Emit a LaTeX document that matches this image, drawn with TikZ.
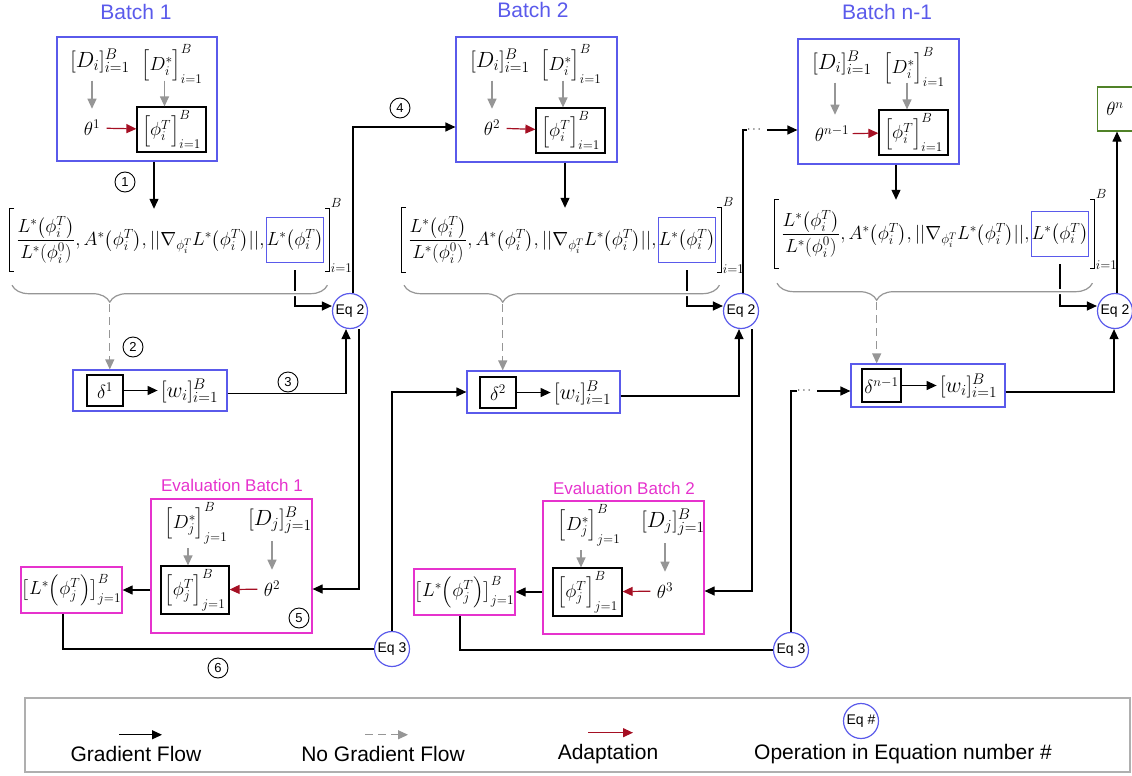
\RequirePackage{fix-cm}
\documentclass[tikz,border=0pt]{standalone}
\usepackage{amsmath}
\usepackage[no-math]{fontspec}
\setmainfont{Liberation Sans}
\usepackage{tikz}
\usetikzlibrary{arrows.meta,positioning,calc,decorations.pathreplacing}
\definecolor{bblue}{RGB}{90,90,235}
\definecolor{emag}{RGB}{230,50,205}
\definecolor{ggray}{RGB}{150,150,150}
\definecolor{rred}{RGB}{165,15,35}
\definecolor{tgreen}{RGB}{80,130,40}
\definecolor{lgray}{RGB}{175,175,175}
\newcommand{\Lpar}[1]{{\left(#1\right)}}
\newcommand{\featrow}{$\dfrac{L^*\Lpar{\phi_i^T}}{L^*\Lpar{\phi_i^0}}, A^*\Lpar{\phi_i^T}, ||\nabla_{\phi_i^T}L^*\Lpar{\phi_i^T}||,$}

\begin{document}
\begin{tikzpicture}[
  x=1pt, y=-1pt,
  font=\fontsize{19}{23}\selectfont,
  btitle/.style={font=\fontsize{21}{25}\selectfont, text=bblue},
  etitle/.style={font=\fontsize{17}{20}\selectfont, text=emag},
  lbl/.style={font=\fontsize{22}{26}\selectfont},
  bbox/.style={draw=bblue, line width=1.2pt},
  ebox/.style={draw=emag, line width=1.2pt, inner sep=1pt},
  kbox/.style={draw=black, line width=1.2pt, inner sep=1pt},
  lossbox/.style={draw=bblue, line width=1pt, inner xsep=0.5pt, minimum height=45},
  brk/.style={minimum width=4, minimum height=62, inner sep=0pt},
  brkline/.style={line width=0.9pt},
  eqc/.style={circle, draw=bblue, line width=1.2pt, fill=white, minimum size=35pt, inner sep=0pt, font=\fontsize{14}{16}\selectfont},
  stepnum/.style={circle, draw, line width=0.9pt, minimum size=20pt, inner sep=0pt, font=\fontsize{13}{15}\selectfont},
  lgtext/.style={font=\fontsize{21}{25}\selectfont},
  dots/.style={inner sep=0pt, font=\fontsize{12}{14}\selectfont},
  ln/.style={line width=1.2pt},
  arr/.style={-{Triangle[length=10pt,width=9pt]}, line width=1.2pt},
  garr/.style={-{Triangle[length=10pt,width=9pt]}, line width=1.2pt, draw=ggray},
  gdarr/.style={garr, dash pattern=on 8pt off 5pt},
  rarr/.style={-{Triangle[length=10pt,width=9pt]}, line width=1.2pt, draw=rred},
  gbrace/.style={decorate, decoration={brace, mirror, amplitude=17pt}, draw=ggray, line width=1.2pt, preaction={draw=white, line width=5pt}}
]
\useasboundingbox (0,0) rectangle (1132,776);

\node[btitle] (t1) at (136,12) {Batch 1};
\node[bbox, minimum width=160, minimum height=124] (b1) at (137,99) {};
\node[lbl] (d1) at (100,61) {$[D_i]_{i=1}^B$};
\node (ds1) at (172,64) {$\Big[D_i^*\Big]_{i=1}^B$};
\node (th1) at (92,128) {$\theta^1$};
\node[kbox, minimum width=69, minimum height=45] (phi1) at (171.5,129.5) {$\Big[\phi_i^T\Big]_{i=1}^B$};
\draw[garr, shorten <=4pt, shorten >=8pt] (th1.north |- d1.south) -- (th1.north);
\draw[garr, shorten <=4pt] ([xshift=-7pt]phi1.north |- d1.south) -- ([xshift=-7pt]phi1.north);
\draw[rarr, shorten <=3pt] (th1) -- (phi1);
\node[stepnum] (s1) at (125,182) {1};

\node[brk] (lb1) at (12,240) {};
\node[inner sep=0pt, right=2pt of lb1] (ex1) {\featrow};
\node[lossbox, right=1pt of ex1] (ls1) {$L^*\Lpar{\phi_i^T}$};
\node[brk, right=1pt of ls1] (rb1) {};
\draw[brkline] (lb1.north east) -- (lb1.north west) -- (lb1.south west) -- (lb1.south east);
\draw[brkline] (rb1.north west) -- (rb1.north east) -- (rb1.south east) -- (rb1.south west);
\node[anchor=south west, inner sep=1pt] (sB1) at (rb1.north east) {$\scriptstyle B$};
\node[anchor=west, inner sep=1pt] (si1) at ([yshift=3pt]rb1.south east) {$\scriptstyle i=1$};
\draw[arr] ([xshift=17pt]b1.south) -- ([xshift=17pt]b1.south |- lb1.north);

\node[eqc] (eq21) at (350,311) {Eq 2};
\draw[arr] ([yshift=-7pt]ls1.south) |- ([yshift=5pt]eq21.west);
\coordinate (bl1) at ([yshift=-14pt]lb1.south);
\coordinate (br1) at (bl1 -| rb1.center);
\draw[gbrace, decoration={aspect=0.31}] (bl1) -- (br1);
\coordinate (tp1) at ($(bl1)!0.31!(br1)+(0,19)$);

\node[bbox, minimum width=154, minimum height=41] (wb1) at (150,390.5) {};
\node[kbox, minimum width=36, minimum height=31, inner sep=0pt] (del1) at (105,390.5) {$\delta^1$};
\node[lbl, right=34pt of del1] (w1) {$[w_i]_{i=1}^B$};
\draw[arr] (del1) -- (w1);
\draw[gdarr] (tp1) -- (tp1 |- wb1.north);
\node[stepnum] (s2) at (133,347) {2};
\draw[arr] ([yshift=-3pt]wb1.east) -| ([xshift=-4pt]eq21.south);
\node[stepnum] (s3) at (288,382) {3};

\node[btitle] (t2) at (533,10) {Batch 2};
\node[bbox, minimum width=161, minimum height=125] (b2) at (536.5,99.5) {};
\node[lbl] (d2) at (500,61) {$[D_i]_{i=1}^B$};
\node (ds2) at (571,64) {$\Big[D_i^*\Big]_{i=1}^B$};
\node (th2) at (492,128) {$\theta^2$};
\node[kbox, minimum width=69, minimum height=45] (phi2) at (570.5,130.5) {$\Big[\phi_i^T\Big]_{i=1}^B$};
\draw[garr, shorten <=4pt, shorten >=8pt] (th2.north |- d2.south) -- (th2.north);
\draw[garr, shorten <=4pt] ([xshift=-7.5pt]phi2.north |- d2.south) -- ([xshift=-7.5pt]phi2.north);
\draw[rarr, shorten <=3pt] (th2) -- (phi2);
\draw[arr] ([xshift=3pt]eq21.north) |- ([yshift=-27.5pt]b2.west);
\node[stepnum] (s4) at (400,108) {4};

\node[brk, minimum height=64] (lb2) at (404,240) {};
\node[inner sep=0pt, right=2pt of lb2] (ex2) {\featrow};
\node[lossbox, right=1pt of ex2] (ls2) {$L^*\Lpar{\phi_i^T}$};
\node[brk, minimum height=64, right=1pt of ls2] (rb2) {};
\draw[brkline] (lb2.north east) -- (lb2.north west) -- (lb2.south west) -- (lb2.south east);
\draw[brkline] (rb2.north west) -- (rb2.north east) -- (rb2.south east) -- (rb2.south west);
\node[anchor=south west, inner sep=1pt] (sB2) at (rb2.north east) {$\scriptstyle B$};
\node[anchor=west, inner sep=1pt] (si2) at ([yshift=3pt]rb2.south east) {$\scriptstyle i=1$};
\draw[arr] ([xshift=28.5pt]b2.south) -- ([xshift=28.5pt]b2.south |- lb2.north);

\node[eqc] (eq22) at (741,311) {Eq 2};
\draw[arr] ([yshift=-7pt]ls2.south) |- ([yshift=5pt]eq22.west);
\coordinate (bl2) at ([yshift=-13pt]lb2.south);
\coordinate (br2) at (bl2 -| rb2.center);
\draw[gbrace, decoration={aspect=0.313}] (bl2) -- (br2);
\coordinate (tp2) at ($(bl2)!0.313!(br2)+(0,19)$);

\node[bbox, minimum width=153, minimum height=42] (wb2) at (543.5,392) {};
\node[kbox, minimum width=36, minimum height=31, inner sep=0pt] (del2) at (498,392.5) {$\delta^2$};
\node[lbl, right=34pt of del2] (w2) {$[w_i]_{i=1}^B$};
\draw[arr] (del2) -- (w2);
\draw[gdarr] (tp2) -- (tp2 |- wb2.north);
\draw[arr] ([yshift=-4pt]wb2.east) -| ([xshift=-2pt]eq22.south);

\node[etitle] (te1) at (232,485) {Evaluation Batch 1};
\node[ebox, minimum width=161, minimum height=134] (ev1) at (231.5,566) {};
\node (dsE1) at (196,523) {$\Big[D_j^*\Big]_{j=1}^B$};
\node[lbl] (dE1) at (280,520) {$[D_j]_{j=1}^B$};
\node[kbox, minimum width=68, minimum height=48] (phiE1) at (195,590) {$\Big[\phi_j^T\Big]_{j=1}^B$};
\node (thE1) at (272,589) {$\theta^2$};
\draw[garr, shorten <=1pt] ([xshift=-7pt]phiE1.north |- dsE1.south) -- ([xshift=-7pt]phiE1.north);
\draw[garr, shorten <=4pt, shorten >=8pt] (thE1.north |- dE1.south) -- (thE1.north);
\draw[rarr, shorten <=3pt] (thE1) -- (phiE1);
\node[stepnum] (s5) at (299,618) {5};
\node[ebox, minimum width=93, minimum height=46] (lE1) at (71.5,590) {$\big[L^*\Lpar{\phi_j^T}\big]_{j=1}^B$};
\draw[arr] (ev1.west |- lE1.east) -- (lE1.east);
\draw[arr] ([xshift=9pt]eq21.south) |- (ev1.east |- thE1);

\node[eqc] (eq31) at (392,649) {Eq 3};
\draw[ln] ([xshift=-8.5pt]lE1.south) |- (eq31.west);
\node[stepnum] (s6) at (218,668) {6};
\draw[arr] (eq31.north) |- (wb2.west);

\node[etitle] (te2) at (624,488) {Evaluation Batch 2};
\node[ebox, minimum width=161, minimum height=133] (ev2) at (623.5,567.5) {};
\node (dsE2) at (589,525) {$\Big[D_j^*\Big]_{j=1}^B$};
\node[lbl] (dE2) at (673,522) {$[D_j]_{j=1}^B$};
\node[kbox, minimum width=69, minimum height=48] (phiE2) at (587.5,592) {$\Big[\phi_j^T\Big]_{j=1}^B$};
\node (thE2) at (665,591) {$\theta^3$};
\draw[garr, shorten <=1pt] ([xshift=-6.5pt]phiE2.north |- dsE2.south) -- ([xshift=-6.5pt]phiE2.north);
\draw[garr, shorten <=4pt, shorten >=8pt] (thE2.north |- dE2.south) -- (thE2.north);
\draw[rarr, shorten <=3pt] (thE2) -- (phiE2);
\node[ebox, minimum width=93, minimum height=46] (lE2) at (464.5,592) {$\big[L^*\Lpar{\phi_j^T}\big]_{j=1}^B$};
\draw[arr] (ev2.west |- lE2.east) -- (lE2.east);
\draw[arr] ([xshift=11pt]eq22.south) |- (ev2.east |- thE2);

\node[eqc] (eq32) at (791,650) {Eq 3};
\draw[ln] ([xshift=-4.5pt]lE2.south) |- (eq32.west);

\node[btitle] (t3) at (887,12) {Batch n-1};
\node[bbox, minimum width=161, minimum height=125] (b3) at (878.5,101.5) {};
\node[lbl] (d3) at (842,63) {$[D_i]_{i=1}^B$};
\node (ds3) at (914,67) {$\Big[D_i^*\Big]_{i=1}^B$};
\node (th3) at (832,134) {$\theta^{n-1}$};
\node[kbox, minimum width=69, minimum height=45] (phi3) at (913.5,132.5) {$\Big[\phi_i^T\Big]_{i=1}^B$};
\draw[garr, shorten <=4pt, shorten >=8pt] ([xshift=3pt]th3.north |- d3.south) -- ([xshift=3pt]th3.north);
\draw[garr, shorten <=4pt] ([xshift=-6.5pt]phi3.north |- d3.south) -- ([xshift=-6.5pt]phi3.north);
\draw[rarr] (th3) -- (phi3);

\node[dots] (dt1) at (755,130) {$\cdots$};
\draw[ln] ([xshift=2pt]eq22.north) |- (dt1.west);
\draw[arr, shorten <=4pt] (dt1.east) -- (dt1 -| b3.west);

\node[brk, minimum height=68] (lb3) at (777,234) {};
\node[inner sep=0pt, right=2pt of lb3] (ex3) {\featrow};
\node[lossbox, right=1pt of ex3] (ls3) {$L^*\Lpar{\phi_i^T}$};
\node[brk, minimum height=68, right=1pt of ls3] (rb3) {};
\draw[brkline] (lb3.north east) -- (lb3.north west) -- (lb3.south west) -- (lb3.south east);
\draw[brkline] (rb3.north west) -- (rb3.north east) -- (rb3.south east) -- (rb3.south west);
\node[anchor=south west, inner sep=1pt] (sB3) at (rb3.north east) {$\scriptstyle B$};
\node[anchor=west, inner sep=1pt] (si3) at ([yshift=3pt]rb3.south east) {$\scriptstyle i=1$};
\draw[arr] ([xshift=17.5pt]b3.south) -- ([xshift=17.5pt]b3.south |- lb3.north);

\node[eqc] (eq23) at (1115,311) {Eq 2};
\draw[arr] ([yshift=-7pt]ls3.south) |- ([yshift=5pt]eq23.west);
\coordinate (bl3) at ([yshift=-15pt]lb3.south);
\coordinate (br3) at (bl3 -| rb3.center);
\draw[gbrace, decoration={aspect=0.316}] (bl3) -- (br3);
\coordinate (tp3) at ($(bl3)!0.316!(br3)+(0,19)$);

\node[bbox, minimum width=154, minimum height=43] (wb3) at (928,385.5) {};
\node[kbox, minimum width=39, minimum height=33, inner sep=0pt] (del3) at (881.5,385.5) {$\delta^{n-1}$};
\node[lbl, right=35pt of del3] (w3) {$[w_i]_{i=1}^B$};
\draw[arr] (del3) -- (w3);
\draw[gdarr] (tp3) -- (tp3 |- wb3.north);
\draw[arr] ([yshift=-6.5pt]wb3.east) -| ([xshift=-1pt]eq23.south);

\node[dots] (dt2) at (805,391) {$\cdots$};
\draw[ln] (eq32.north) |- (dt2.west);
\draw[arr, shorten <=4pt] (dt2.east) -- (dt2 -| wb3.west);

\node[draw=tgreen, line width=1.2pt, minimum width=35, minimum height=44] (thn) at (1115,109) {$\theta^n$};
\draw[arr] ([xshift=2pt]eq23.north) -- ([xshift=2pt]thn.south);

\node[draw=lgray, line width=1.2pt, minimum width=1105, minimum height=74] (leg) at (577.5,735) {};
\node[lgtext] (lg1) at (136,754) {Gradient Flow};
\node[lgtext] (lg2) at (383,754) {No Gradient Flow};
\node[lgtext] (lg3) at (608,754) {Adaptation};
\node[lgtext] (lg4) at (903,754) {Operation in Equation number \#};
\draw[arr] ([xshift=-17pt,yshift=8pt]lg1.north) -- ++(43,0);
\draw[gdarr] ([xshift=-18pt,yshift=8pt]lg2.north) -- ++(43,0);
\draw[rarr] ([xshift=-20pt,yshift=8pt]lg3.north) -- ++(45,0);
\node[eqc] (eqL) at (861,721) {Eq \#};
\end{tikzpicture}
\end{document}
